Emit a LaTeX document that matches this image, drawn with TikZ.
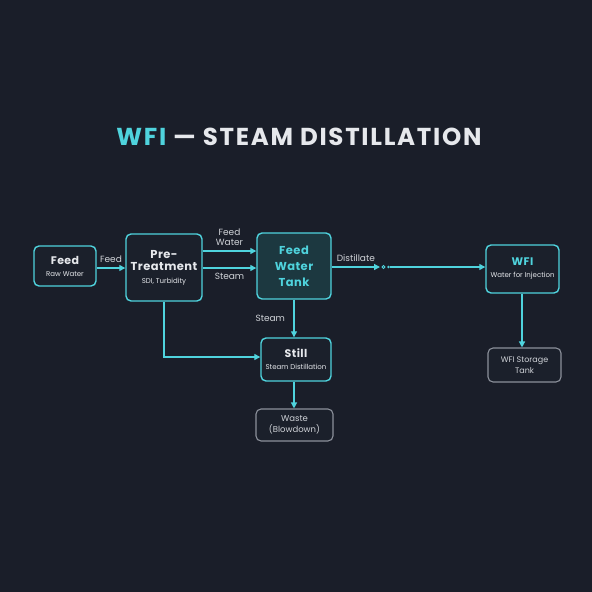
\documentclass[tikz,border=0pt]{standalone}
\usepackage{fontspec}
\setmainfont{Poppins}
\newfontfamily\titlefont[LetterSpace=7]{Poppins}
\newfontfamily\headfont[LetterSpace=4]{Poppins}
\usetikzlibrary{arrows.meta}
\definecolor{bg}{HTML}{1A1E29}
\definecolor{teal}{HTML}{4FD3DD}
\definecolor{boxfill}{HTML}{1B202B}
\definecolor{tankfill}{HTML}{1C3840}
\definecolor{graybd}{HTML}{8C919B}
\definecolor{txt}{HTML}{E6E8EC}
\definecolor{subtxt}{HTML}{D0D3D8}
\newcommand{\hdf}{\headfont\bfseries\fontsize{11}{14}\selectfont}
\newcommand{\hdg}{\headfont\bfseries\fontsize{11.5}{15}\selectfont}
\newcommand{\subf}{\normalfont\fontsize{7}{9}\selectfont}
\begin{document}
\begin{tikzpicture}[x=1pt,y=-1pt,
  procbox/.style={draw=teal,line width=1.4pt,rounded corners=5pt,fill=boxfill,align=center,text=txt,inner sep=0pt},
  graybox/.style={draw=graybd,line width=1.1pt,rounded corners=5pt,fill=boxfill,align=center,text=subtxt,inner sep=0pt,font=\fontsize{8}{10.5}\selectfont},
  flow/.style={draw=teal,line width=1.3pt,-{Triangle[length=6pt,width=6pt]}},
  elabel/.style={text=subtxt,font=\fontsize{9}{10.5}\selectfont,align=center}
]
\fill[bg] (0,0) rectangle (592,592);
\useasboundingbox (0,0) rectangle (592,592);

\node[font=\titlefont\bfseries\fontsize{24.5}{27}\selectfont,text=txt] (title) at (299,137) {\textcolor{teal}{WFI} — STEAM DISTILLATION};

\node[procbox,minimum width=62pt,minimum height=40pt] (feed) at (65,266)
  {\hdf Feed\\[0pt]\subf Raw Water};
\node[procbox,minimum width=76pt,minimum height=67pt] (pre) at (164,267.5)
  {\hdg Pre-\\\hdg Treatment\\[1pt]\subf SDI, Turbidity};
\node[procbox,fill=tankfill,minimum width=74pt,minimum height=66pt,text=teal,font=\headfont\bfseries\fontsize{11.5}{16}\selectfont] (tank) at (294,266)
  {Feed\\Water\\Tank};
\node[procbox,minimum width=73pt,minimum height=48pt] (wfi) at (522.5,269)
  {\hdf\textcolor{teal}{WFI}\\[0pt]\subf Water for Injection};
\node[procbox,minimum width=70pt,minimum height=43pt] (still) at (296,359.5)
  {\hdf Still\\[0pt]\subf Steam Distillation};
\node[graybox,minimum width=77pt,minimum height=32pt,font=\fontsize{8.5}{11}\selectfont] (waste) at (294.5,425)
  {Waste\\(Blowdown)};
\node[graybox,minimum width=73pt,minimum height=34pt] (store) at (524.5,365)
  {WFI Storage\\Tank};

% Feed -> Pre
\draw[flow] (feed.east |- 0,268) -- (pre.west |- 0,268) node[elabel,midway,above=1pt] {Feed};
% Pre -> Tank (two)
\draw[flow] (pre.east |- 0,251) -- (tank.west |- 0,251) node[elabel,midway,above=1pt] {Feed\\Water};
\draw[flow] (pre.east |- 0,268) -- (tank.west |- 0,268) node[elabel,midway,below=1.5pt] {Steam};
% Distillate
\coordinate (d1) at (380,267);
\coordinate (d2) at (390,267);
\draw[flow] (tank.east |- d1) -- (d1) node[elabel,midway,above=1pt] {Distillate};
\draw[teal,line width=0.9pt] (383.5,267) circle (1.6pt);
\fill[teal] (388.5,267) circle (1.3pt);
\draw[flow] (d2) -- (wfi.west |- d2);
% Tank -> Still
\draw[flow] (tank.south) -- (still.north -| tank.south) node[elabel,midway,left=5pt] {Steam};
% Pre -> Still
\coordinate (corner) at (164,357);
\draw[flow] (pre.south) -- (corner) -- (still.west |- corner);
% Still -> Waste
\draw[flow] (still.south -| 294,0) -- (waste.north -| 294,0);
% WFI -> store
\draw[flow] (wfi.south -| 522,0) -- (store.north -| 522,0);
\end{tikzpicture}
\end{document}
